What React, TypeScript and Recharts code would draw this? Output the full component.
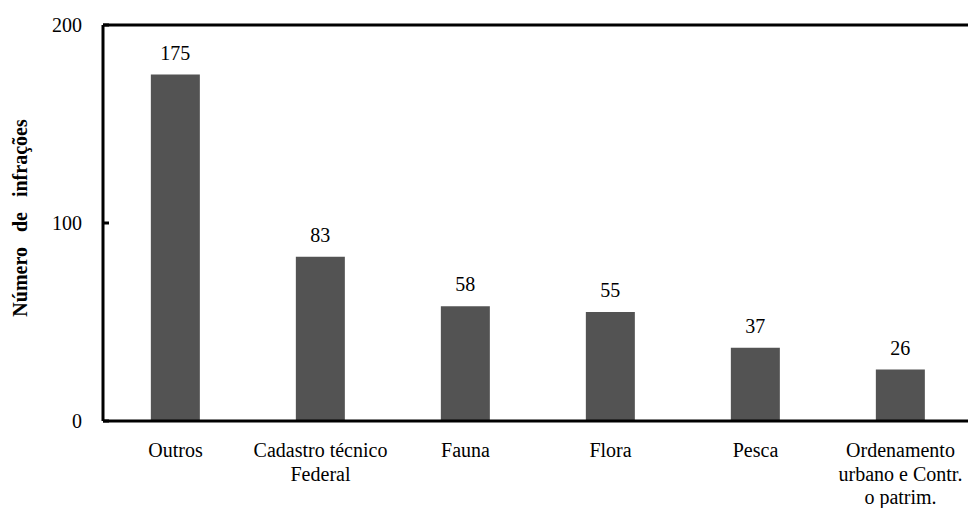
import { BarChart, Bar, XAxis, YAxis, LabelList, ReferenceLine } from 'recharts'

const categories = ['Outros', 'Cadastro técnico\nFederal', 'Fauna', 'Flora', 'Pesca', 'Ordenamento\nurbano e Contr.\no patrim.']
const infractions = [175, 83, 58, 55, 37, 26]
const yTicks = [0, 100, 200]

const data = categories.map((name, i) => ({ name, value: infractions[i] }))

const FONT = '"Liberation Serif", "Times New Roman", serif'

// Category labels can span several lines
const XTick = (props: any) => {
  const { x, y, payload } = props
  const lines = String(payload.value).split('\n')
  return (
    <text x={x} y={y} textAnchor="middle" style={{ fontFamily: FONT }} fontSize={20} fill="#000">
      {lines.map((line, i) => (
        <tspan key={i} x={x} dy={i === 0 ? 14 : 23.5}>{line}</tspan>
      ))}
    </text>
  )
}

// Tick text on the left plus a short inward tick mark
const YTick = (props: any) => {
  const { x, y, payload } = props
  return (
    <g>
      <line x1={x + 21} x2={x + 27} y1={y} y2={y} stroke="#000" strokeWidth={3} />
      <text x={x} y={y} dy="0.35em" textAnchor="end" style={{ fontFamily: FONT }} fontSize={20} fill="#000">
        {payload.value}
      </text>
    </g>
  )
}

const YLabel = (props: any) => {
  const { viewBox } = props
  const cx = 20
  const cy = viewBox.y + viewBox.height / 2 - 5
  return (
    <text
      x={cx}
      y={cy}
      transform={`rotate(-90, ${cx}, ${cy})`}
      textAnchor="middle"
      dominantBaseline="central"
      style={{ fontFamily: FONT, wordSpacing: 10 }}
      fontSize={20}
      fontWeight="bold"
      fill="#000"
    >
      Número de infrações
    </text>
  )
}

export default function App() {
  return (
    <div style={{ position: 'absolute', left: 0, top: 0, width: 968, height: 508, overflow: 'hidden', background: '#fff', fontFamily: FONT }}>
      <BarChart
        width={973}
        height={508}
        data={data}
        margin={{ top: 25, right: 0, left: 0, bottom: 0 }}
        barCategoryGap="33%"
        style={{ fontFamily: FONT }}
      >
        <XAxis
          dataKey="name"
          height={87}
          interval={0}
          tickLine={false}
          tickSize={0}
          tickMargin={22}
          axisLine={{ stroke: '#000', strokeWidth: 3 }}
          tick={<XTick />}
        />
        <YAxis
          width={103}
          domain={[0, 200]}
          ticks={yTicks}
          tickLine={false}
          tickSize={0}
          tickMargin={21}
          axisLine={{ stroke: '#000', strokeWidth: 3 }}
          tick={<YTick />}
          label={<YLabel />}
        />
        <ReferenceLine y={200} stroke="#000" strokeWidth={3} />
        <Bar dataKey="value" fill="#535353" isAnimationActive={false}>
          <LabelList
            dataKey="value"
            position="top"
            offset={15}
            style={{ fontFamily: FONT }}
            fontSize={20}
            fill="#000"
          />
        </Bar>
      </BarChart>
    </div>
  )
}
